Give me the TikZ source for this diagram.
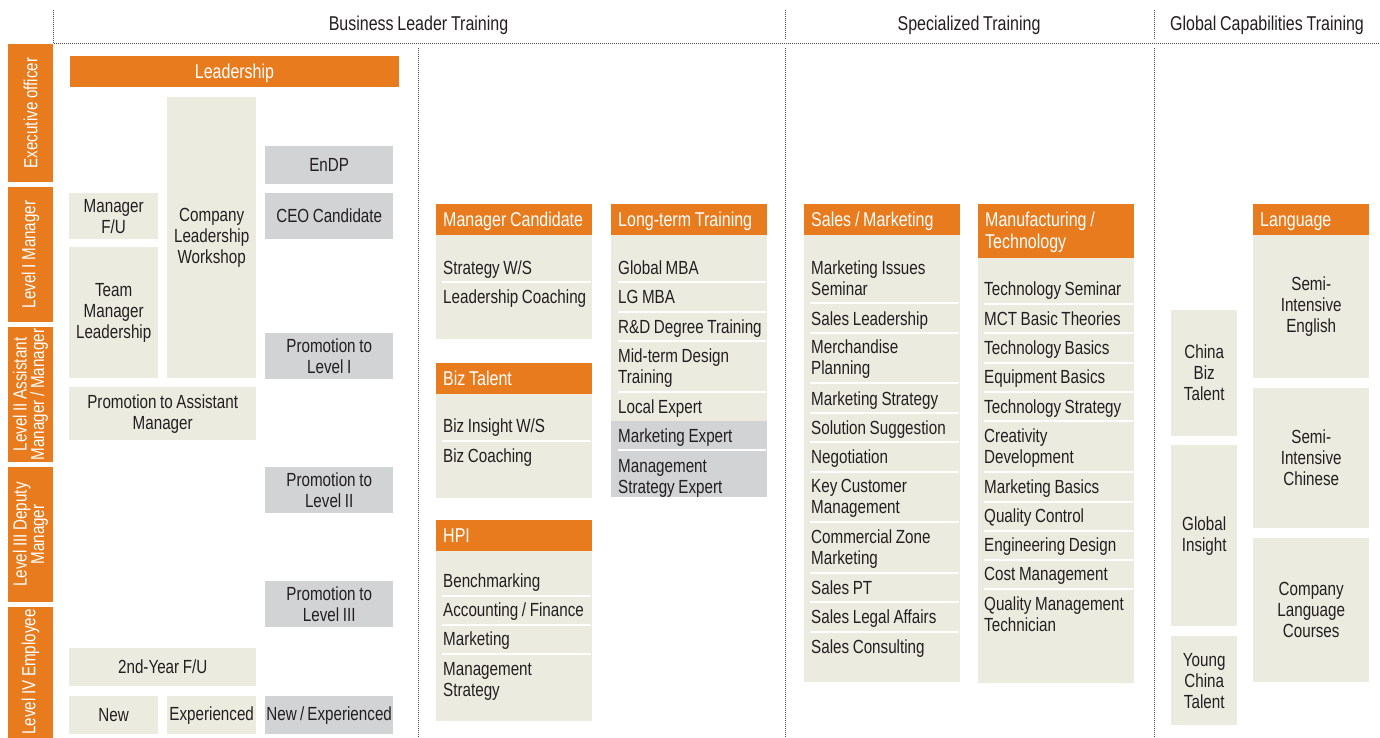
\documentclass[tikz,border=0pt]{standalone}
\usepackage{fontspec}
\setmainfont[FakeStretch=0.8, WordSpace=0.85]{Liberation Sans}

\definecolor{lgorange}{HTML}{E87B1E}
\definecolor{lgbeige}{HTML}{EBEBE0}
\definecolor{lggray}{HTML}{D2D3D5}
\definecolor{lgtext}{HTML}{231F20}

\newcommand\lgbody{\fontsize{19}{21}\selectfont}
\newcommand\lglist{\fontsize{20}{22}\selectfont}
\newcommand\lghead{\fontsize{20}{22}\selectfont}
\newcommand\lgside{\fontsize{19}{17.5}\selectfont}

\tikzset{
  beigebox/.style={fill=lgbeige, text=lgtext, font=\lgbody, inner sep=0pt, align=center, anchor=north west},
  graybox/.style={beigebox, fill=lggray},
  headtext/.style={text=white, font=\lglist, inner sep=0pt, anchor=base west, align=left},
  item/.style={text=lgtext, font=\lgbody, inner sep=0pt, anchor=base west, align=left},
  sepline/.style={white, line width=1.6pt},
  sidelabel/.style={fill=lgorange, text=white, font=\lgside, inner sep=0pt, rotate=90,
                    minimum height=45pt, align=center},
  title/.style={text=lgtext, font=\lghead, inner sep=0pt, anchor=base},
  dotline/.style={black!70, line width=0.9pt, dash pattern=on 0.8pt off 1.2pt}
}

\begin{document}
\begin{tikzpicture}[x=1pt, y=-1pt]
    \useasboundingbox[fill=white] (0,0) rectangle (1380,738);

    % Section titles and dotted frame
    \draw[dotline] (53,10) -- (53,43) -- (1380,43);
    \draw[dotline] (785,10) -- (785,40);
    \draw[dotline] (1154,10) -- (1154,40);
    \draw[dotline] (418,48) -- (418,738);
    \draw[dotline] (785,48) -- (785,738);
    \draw[dotline] (1154,48) -- (1154,738);
    \node[title] (tbiz)  at (418.5,31) {Business Leader Training};
    \node[title] (tspec) at (969,31)   {Specialized Training};
    \node[title] (tglob) at (1267,31)  {Global Capabilities Training};

    % Job levels
    \node[sidelabel, minimum width=138pt] (lvexec) at (30.5,113)   {Executive officer};
    \node[sidelabel, minimum width=135pt] (lvone)  at (30.5,254.5) {Level I Manager};
    \node[sidelabel, minimum width=135pt] (lvtwo)  at (30.5,394.5) {Level II Assistant\\Manager / Manager};
    \node[sidelabel, minimum width=135pt] (lvthree) at (30.5,534.5) {Level III Deputy\\Manager};
    \fill[lgorange] (8,607) rectangle (53,738);
    \node[sidelabel, fill=none] (lvfour) at (30.5,672) {Level IV Employee};

    % Business leader: leadership ladder
    \fill[lgorange] (70,56) rectangle (399,87);
    \node[headtext, anchor=base] (leader) at (234.5,79) {Leadership};
    \node[beigebox, minimum width=89pt, minimum height=281pt] (workshop) at (167,97) {Company\\Leadership\\Workshop};
    \node[graybox, minimum width=128pt, minimum height=38pt] (endp) at (265,146) {EnDP};
    \node[graybox, minimum width=128pt, minimum height=46pt] (ceo) at (265,193) {CEO Candidate};
    \node[beigebox, minimum width=89pt, minimum height=46pt] (mgrfu) at (69,193) {Manager\\F/U};
    \node[beigebox, minimum width=89pt, minimum height=131pt] (teammgr) at (69,247) {Team\\Manager\\Leadership};
    \node[graybox, minimum width=128pt, minimum height=46pt] (promone) at (265,333) {Promotion to\\Level I};
    \node[beigebox, minimum width=187pt, minimum height=53pt] (promasst) at (69,387) {Promotion to Assistant\\Manager};
    \node[graybox, minimum width=128pt, minimum height=46pt] (promtwo) at (265,467) {Promotion to\\Level II};
    \node[graybox, minimum width=128pt, minimum height=46pt] (promthree) at (265,581) {Promotion to\\Level III};
    \node[beigebox, minimum width=187pt, minimum height=38pt] (yeartwo) at (69,648) {2nd-Year F/U};
    \node[beigebox, minimum width=89pt, minimum height=38pt] (newemp) at (69,696) {New};
    \node[beigebox, minimum width=89pt, minimum height=38pt] (expemp) at (167,696) {Experienced};
    \node[graybox, minimum width=128pt, minimum height=38pt] (newexp) at (265,696) {New\,/\,Experienced};

    % Business leader: Manager Candidate
    \fill[lgorange] (436,204) rectangle (592,235);
    \fill[lgbeige] (436,235) rectangle (592,339);
    \node[headtext] (mchead) at (443,226) {Manager Candidate};
    \draw[sepline] (442,282) -- (591,282);
    \node[item] (mcone) at (443,274) {Strategy W/S};
    \node[item] (mctwo) at (443,303) {Leadership Coaching};

    % Business leader: Biz Talent
    \fill[lgorange] (436,363) rectangle (592,394);
    \fill[lgbeige] (436,394) rectangle (592,498);
    \node[headtext] (bthead) at (443,385) {Biz Talent};
    \draw[sepline] (442,441) -- (591,441);
    \node[item] (btone) at (443,432) {Biz Insight W/S};
    \node[item] (bttwo) at (443,462) {Biz Coaching};

    % Business leader: HPI
    \fill[lgorange] (436,520) rectangle (592,551);
    \fill[lgbeige] (436,551) rectangle (592,721);
    \node[headtext] (hpihead) at (443,542) {HPI};
    \foreach \y in {596,625,654}
        \draw[sepline] (442,\y) -- (591,\y);
    \node[item] (hpione)   at (443,587) {Benchmarking};
    \node[item] (hpitwo)   at (443,616) {Accounting / Finance};
    \node[item] (hpithree) at (443,645) {Marketing};
    \node[item] (hpifour)  at (443,696) {Management\\Strategy};

    % Business leader: Long-term Training
    \fill[lgorange] (611,204) rectangle (767,235);
    \fill[lgbeige] (611,235) rectangle (767,497);
    \fill[lggray] (611,421) rectangle (767,497);
    \node[headtext] (lthead) at (618,226) {Long-term Training};
    \foreach \y in {282,312,341,392,450}
        \draw[sepline] (618,\y) -- (766,\y);
    \node[item] (ltone)   at (618,274) {Global MBA};
    \node[item] (lttwo)   at (618,303) {LG MBA};
    \node[item] (ltthree) at (618,333) {R\&D Degree Training};
    \node[item] (ltfour)  at (618,383) {Mid-term Design\\Training};
    \node[item] (ltfive)  at (618,413) {Local Expert};
    \node[item] (ltsix)   at (618,442) {Marketing Expert};
    \node[item] (ltseven) at (618,493) {Management\\Strategy Expert};

    % Specialized: Sales / Marketing
    \fill[lgorange] (804,204) rectangle (960,235);
    \fill[lgbeige] (804,235) rectangle (960,682);
    \node[headtext] (smhead) at (811,226) {Sales / Marketing};
    \foreach \y in {303,333,383,413,442,472,522,573,602,632}
        \draw[sepline] (810,\y) -- (959,\y);
    \node[item] (smone)    at (811,295) {Marketing Issues\\Seminar};
    \node[item] (smtwo)    at (811,325) {Sales Leadership};
    \node[item] (smthree)  at (811,374) {Merchandise\\Planning};
    \node[item] (smfour)   at (811,405) {Marketing Strategy};
    \node[item] (smfive)   at (811,434) {Solution Suggestion};
    \node[item] (smsix)    at (811,463) {Negotiation};
    \node[item] (smseven)  at (811,513) {Key Customer\\Management};
    \node[item] (smeight)  at (811,564) {Commercial Zone\\Marketing};
    \node[item] (smnine)   at (811,594) {Sales PT};
    \node[item] (smten)    at (811,623) {Sales Legal Affairs};
    \node[item] (smeleven) at (811,653) {Sales Consulting};

    % Specialized: Manufacturing / Technology
    \fill[lgorange] (978,204) rectangle (1134,258);
    \fill[lgbeige] (978,258) rectangle (1134,683);
    \node[headtext] (mthead) at (985,248) {Manufacturing /\\Technology};
    \foreach \y in {304,333,363,392,421,472,502,531,560,589}
        \draw[sepline] (984,\y) -- (1133,\y);
    \node[item] (mtone)    at (984,295) {Technology Seminar};
    \node[item] (mttwo)    at (984,325) {MCT Basic Theories};
    \node[item] (mtthree)  at (984,354) {Technology Basics};
    \node[item] (mtfour)   at (984,383) {Equipment Basics};
    \node[item] (mtfive)   at (984,413) {Technology Strategy};
    \node[item] (mtsix)    at (984,463) {Creativity\\Development};
    \node[item] (mtseven)  at (984,493) {Marketing Basics};
    \node[item] (mteight)  at (984,522) {Quality Control};
    \node[item] (mtnine)   at (984,551) {Engineering Design};
    \node[item] (mtten)    at (984,580) {Cost Management};
    \node[item] (mteleven) at (984,631) {Quality Management\\Technician};

    % Global capabilities
    \node[beigebox, minimum width=66pt, minimum height=126pt] (chinabiz) at (1171,310) {China\\Biz\\Talent};
    \node[beigebox, minimum width=66pt, minimum height=181pt] (globins) at (1171,445) {Global\\Insight};
    \node[beigebox, minimum width=66pt, minimum height=89pt] (youngchina) at (1171,636) {Young\\China\\Talent};
    \fill[lgorange] (1253,204) rectangle (1369,235);
    \node[headtext] (langhead) at (1260,226) {Language};
    \node[beigebox, minimum width=116pt, minimum height=143pt] (english) at (1253,235) {Semi-\\Intensive\\English};
    \node[beigebox, minimum width=116pt, minimum height=140pt] (chinese) at (1253,388) {Semi-\\Intensive\\Chinese};
    \node[beigebox, minimum width=116pt, minimum height=144pt] (courses) at (1253,538) {Company\\Language\\Courses};
\end{tikzpicture}
\end{document}
